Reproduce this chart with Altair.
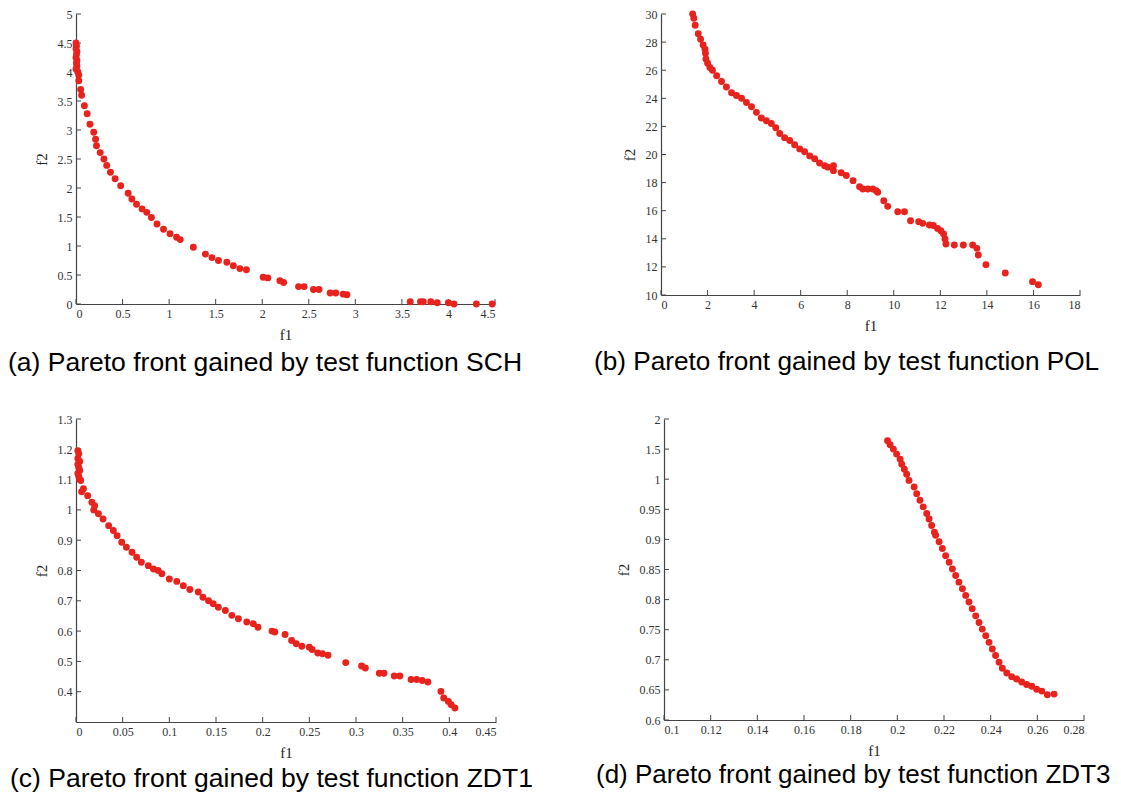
import altair as alt
import pandas as pd

# ---------------- data ----------------
sch_f1 = [0.0, 0.005, 0.0, 0.01, 0.005, 0.0, 0.01, 0.005, 0.01, 0.0, 0.02, 0.03,
          0.03, 0.05, 0.06, 0.09, 0.12, 0.15, 0.19, 0.21, 0.22, 0.26, 0.30, 0.33, 0.37,
          0.42, 0.48, 0.56, 0.60, 0.65, 0.71, 0.76, 0.81, 0.87, 0.94, 1.01, 1.08, 1.12,
          1.26, 1.39, 1.46, 1.53, 1.62, 1.69, 1.76, 1.83, 2.01, 2.06, 2.19, 2.23, 2.39,
          2.45, 2.55, 2.61, 2.73, 2.79, 2.87, 2.91, 3.59, 3.70, 3.73, 3.81, 3.88, 4.00,
          4.06, 4.30, 4.47]
sch_f2 = [4.5, 4.45, 4.4, 4.35, 4.3, 4.25, 4.2, 4.15, 4.1, 4.05, 4.0, 3.95,
          3.85, 3.70, 3.60, 3.42, 3.28, 3.10, 2.96, 2.84, 2.73, 2.61, 2.50, 2.39, 2.27,
          2.16, 2.04, 1.91, 1.81, 1.72, 1.64, 1.58, 1.49, 1.38, 1.29, 1.21, 1.15, 1.11,
          0.98, 0.86, 0.80, 0.75, 0.72, 0.66, 0.61, 0.59, 0.46, 0.45, 0.40, 0.37, 0.30,
          0.30, 0.25, 0.25, 0.19, 0.19, 0.17, 0.16, 0.04, 0.04, 0.04, 0.04, 0.02, 0.02,
          0.0, 0.0, 0.0]

pol_f1 = [1.36, 1.41, 1.47, 1.60, 1.70, 1.81, 1.89, 1.91, 1.93, 2.00, 2.10, 2.21, 2.39,
          2.60, 2.81, 3.03, 3.24, 3.46, 3.67, 3.89, 4.10, 4.31, 4.53, 4.74, 4.93, 5.10,
          5.31, 5.53, 5.74, 5.96, 6.17, 6.39, 6.60, 6.81, 7.03, 7.17, 7.41, 7.41, 7.74,
          7.96, 8.25, 8.53, 8.67, 8.88, 9.10, 9.24, 9.31, 9.57, 9.74, 10.17, 10.46, 10.72,
          11.07, 11.24, 11.53, 11.70, 11.88, 12.02, 12.14, 12.20, 12.24, 12.60, 12.99,
          13.39, 13.57, 13.63, 13.96, 14.79, 15.96, 16.21]
pol_f2 = [30.0, 29.7, 29.2, 28.6, 28.2, 27.8, 27.5, 27.2, 26.8, 26.5, 26.2, 26.0, 25.6,
          25.2, 24.8, 24.4, 24.2, 24.0, 23.7, 23.4, 23.0, 22.6, 22.4, 22.2, 21.9, 21.5,
          21.2, 21.0, 20.7, 20.4, 20.2, 19.9, 19.7, 19.4, 19.2, 19.1, 19.2, 18.85, 18.7,
          18.5, 18.14, 17.71, 17.55, 17.55, 17.55, 17.43, 17.31, 16.71, 16.31, 15.93, 15.93,
          15.29, 15.22, 15.10, 14.98, 14.95, 14.74, 14.58, 14.34, 13.98, 13.63, 13.56, 13.56,
          13.56, 13.32, 12.85, 12.16, 11.57, 10.95, 10.73]

zdt1_f1 = [0.002, 0.003, 0.002, 0.004, 0.002, 0.003, 0.004, 0.002, 0.003, 0.004,
           0.005, 0.008, 0.006, 0.0125, 0.017, 0.020, 0.019, 0.024, 0.029, 0.035, 0.040,
           0.044, 0.049, 0.054, 0.060, 0.065, 0.070, 0.0775, 0.083, 0.088, 0.092, 0.100,
           0.108, 0.115, 0.122, 0.131, 0.136, 0.142, 0.147, 0.1525, 0.160, 0.167, 0.174,
           0.183, 0.190, 0.195, 0.210, 0.213, 0.224, 0.231, 0.236, 0.242, 0.250, 0.253,
           0.259, 0.264, 0.270, 0.289, 0.306, 0.310, 0.325, 0.330, 0.341, 0.347, 0.359,
           0.365, 0.371, 0.377, 0.391, 0.394, 0.399, 0.402, 0.406]
zdt1_f2 = [1.195, 1.185, 1.17, 1.16, 1.15, 1.14, 1.13, 1.12, 1.11, 1.10,
           1.097, 1.07, 1.06, 1.047, 1.025, 1.014, 1.0, 0.987, 0.97, 0.948, 0.932,
           0.915, 0.893, 0.877, 0.86, 0.844, 0.827, 0.816, 0.805, 0.80, 0.789, 0.772,
           0.764, 0.75, 0.737, 0.729, 0.712, 0.70, 0.69, 0.679, 0.668, 0.652, 0.641,
           0.63, 0.624, 0.613, 0.60, 0.597, 0.589, 0.569, 0.558, 0.55, 0.547, 0.539,
           0.528, 0.525, 0.52, 0.496, 0.485, 0.478, 0.461, 0.461, 0.452, 0.452, 0.44,
           0.44, 0.437, 0.432, 0.401, 0.379, 0.368, 0.357, 0.346]

zdt3_f1 = [0.1958, 0.1969, 0.1983, 0.1997, 0.2012, 0.2019, 0.2030, 0.2040, 0.2050,
           0.2072, 0.2083, 0.2097, 0.2111, 0.2126, 0.2136, 0.2147, 0.2159, 0.2164, 0.2179,
           0.2193, 0.2207, 0.2222, 0.2236, 0.2250, 0.2264, 0.2279, 0.2293, 0.2307, 0.2321,
           0.2336, 0.2350, 0.2364, 0.2379, 0.2393, 0.2407, 0.2421, 0.2436, 0.2450, 0.2469,
           0.2490, 0.2511, 0.2533, 0.2554, 0.2576, 0.2597, 0.2619, 0.2643, 0.2672]
zdt3_f2 = [1.638, 1.572, 1.50, 1.417, 1.333, 1.25, 1.167, 1.083, 0.998,
           0.987, 0.976, 0.965, 0.954, 0.943, 0.934, 0.923, 0.912, 0.907, 0.896,
           0.885, 0.873, 0.862, 0.851, 0.84, 0.829, 0.818, 0.807, 0.796, 0.785,
           0.773, 0.762, 0.751, 0.74, 0.729, 0.718, 0.707, 0.696, 0.686, 0.678,
           0.672, 0.668, 0.663, 0.659, 0.656, 0.651, 0.648, 0.642, 0.643]

sch_xticks = [0, 0.5, 1, 1.5, 2, 2.5, 3, 3.5, 4, 4.5]
sch_yticks = [0, 0.5, 1, 1.5, 2, 2.5, 3, 3.5, 4, 4.5, 5]
pol_xticks = [0, 2, 4, 6, 8, 10, 12, 14, 16, 18]
pol_yticks = [10, 12, 14, 16, 18, 20, 22, 24, 26, 28, 30]
zdt1_xticks = [0, 0.05, 0.1, 0.15, 0.2, 0.25, 0.3, 0.35, 0.4, 0.45]
zdt1_yticks = [0.4, 0.5, 0.6, 0.7, 0.8, 0.9, 1.0, 1.1, 1.2, 1.3]
zdt3_xticks = [0.1, 0.12, 0.14, 0.16, 0.18, 0.2, 0.22, 0.24, 0.26, 0.28]
zdt3_yticks = [0.6, 0.65, 0.7, 0.75, 0.8, 0.85, 0.9, 0.95, 1.0, 1.5, 2.0]

captions = ["(a) Pareto front gained by test function SCH",
            "(b) Pareto front gained by test function POL",
            "(c) Pareto front gained by test function ZDT1",
            "(d) Pareto front gained by test function ZDT3"]

RED = "#e8231d"
TICK = 5


def panel(f1, f2, xticks, yticks, xscale, yscale, w, h, caption, dx, offset, fs):
    pts = pd.DataFrame({"f1": f1, "f2": f2})
    xt = pd.DataFrame({"f1": xticks})
    yt = pd.DataFrame({"f2": yticks})
    xaxis = alt.Axis(values=xticks, format="~g", title="f1", grid=False)
    yaxis = alt.Axis(values=yticks, format="~g", title="f2", grid=False)
    points = alt.Chart(pts).mark_circle(size=48, color=RED, opacity=1).encode(
        x=alt.X("f1:Q", scale=xscale, axis=xaxis),
        y=alt.Y("f2:Q", scale=yscale, axis=yaxis),
    )
    xtick_layer = alt.Chart(xt).mark_rule(color="#444", strokeWidth=1).encode(
        x=alt.X("f1:Q", scale=xscale, axis=xaxis),
        y=alt.value(h), y2=alt.value(h - TICK),
    )
    ytick_layer = alt.Chart(yt).mark_rule(color="#444", strokeWidth=1).encode(
        y=alt.Y("f2:Q", scale=yscale, axis=yaxis),
        x=alt.value(0), x2=alt.value(TICK),
    )
    return alt.layer(xtick_layer, ytick_layer, points).properties(
        width=w, height=h,
        title=alt.TitleParams(caption, orient="bottom", anchor="start", frame="group",
                              dx=dx, offset=offset, font="Liberation Sans",
                              fontSize=fs, fontWeight="normal", color="black"),
    )


pa = panel(sch_f1, sch_f2, sch_xticks, sch_yticks,
           alt.Scale(domain=[0, 4.5], nice=False, zero=False),
           alt.Scale(domain=[0, 5], nice=False, zero=False),
           419, 290, captions[0], -68, 8, 26.5)
pb = panel(pol_f1, pol_f2, pol_xticks, pol_yticks,
           alt.Scale(domain=[0, 18], nice=False, zero=False),
           alt.Scale(domain=[10, 30], nice=False, zero=False),
           419, 281, captions[1], -67, 16, 26.2)
pc = panel(zdt1_f1, zdt1_f2, zdt1_xticks, zdt1_yticks,
           alt.Scale(domain=[0, 0.45], nice=False, zero=False),
           alt.Scale(domain=[0.3, 1.3], nice=False, zero=False),
           420, 303, captions[2], -66, 5.5, 26.5)
pd_ = panel(zdt3_f1, zdt3_f2, zdt3_xticks, zdt3_yticks,
            alt.Scale(domain=[0.1, 0.28], nice=False, zero=False),
            alt.Scale(domain=[0.6, 1.0, 2.0], range=[301, 60.2, 0], nice=False, zero=False),
            420, 301, captions[3], -68, 3.5, 26)

row1 = alt.hconcat(pa, pb, spacing=71)
row2 = alt.hconcat(pc, pd_, spacing=63)
chart = alt.vconcat(row1, row2, spacing=36).properties(
    padding={"left": 0, "top": 0, "right": 0, "bottom": 0}
).configure(background="white").configure_view(stroke=None).configure_axis(
    grid=False, ticks=False, labelPadding=4, labelFont="Liberation Serif",
    labelFontSize=12, labelColor="#333", titleFont="Liberation Serif",
    titleFontSize=15, titleFontWeight="normal", titleColor="#222",
    domainColor="#444", domainWidth=1.2, titlePadding=8,
)

chart.save("out.html", embed_options={"renderer": "svg", "actions": False})
